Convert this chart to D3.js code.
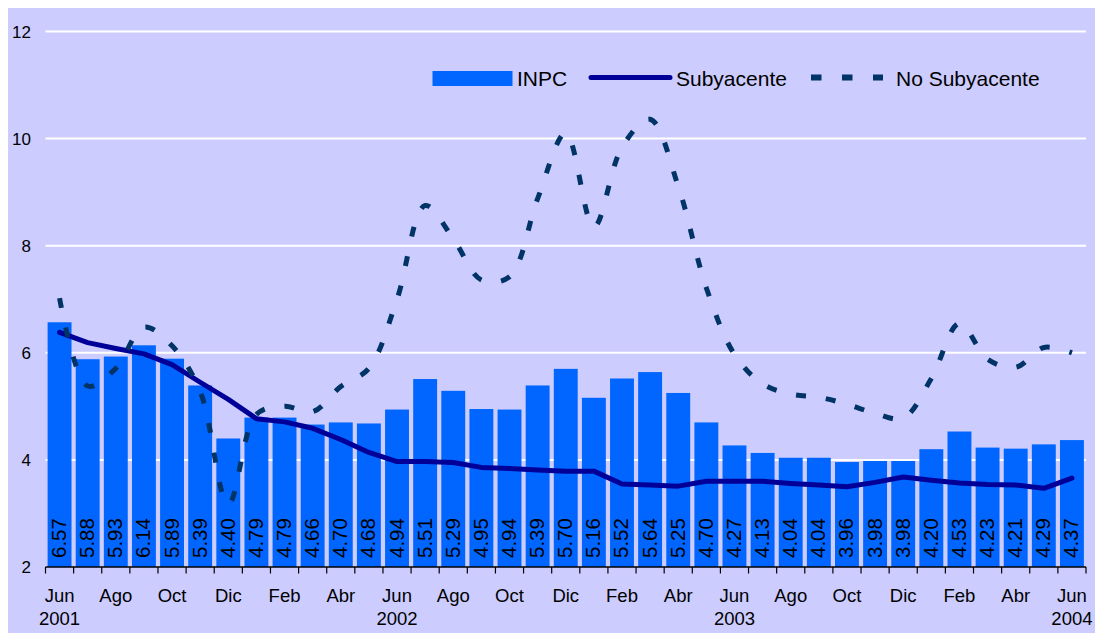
<!DOCTYPE html>
<html>
<head>
<meta charset="utf-8">
<script src="https://cdn.jsdelivr.net/npm/d3@7"></script>
<style>
  html, body { margin: 0; padding: 0; background: #ffffff; }
  svg { display: block; }
  text { font-family: "Liberation Sans", Arial, sans-serif; fill: #000; }
</style>
</head>
<body>
<svg id="chart" width="1095" height="633"></svg>
<script>
// Monthly months, Jun 2001 – Jun 2004
const months = ["Jun","Jul","Ago","Sep","Oct","Nov","Dic","Ene","Feb","Mar","Abr","May",
                "Jun","Jul","Ago","Sep","Oct","Nov","Dic","Ene","Feb","Mar","Abr","May",
                "Jun","Jul","Ago","Sep","Oct","Nov","Dic","Ene","Feb","Mar","Abr","May","Jun"];
const years = {0: "2001", 12: "2002", 24: "2003", 36: "2004"};

// Inflación anual (%)
const inpc = [6.57,5.88,5.93,6.14,5.89,5.39,4.40,4.79,4.79,4.66,4.70,4.68,
              4.94,5.51,5.29,4.95,4.94,5.39,5.70,5.16,5.52,5.64,5.25,4.70,
              4.27,4.13,4.04,4.04,3.96,3.98,3.98,4.20,4.53,4.23,4.21,4.29,4.37];
const subyacente = [6.38,6.19,6.08,5.98,5.78,5.45,5.13,4.77,4.71,4.59,4.38,4.14,
                    3.97,3.97,3.95,3.86,3.84,3.81,3.79,3.79,3.55,3.53,3.51,3.60,
                    3.60,3.60,3.56,3.53,3.50,3.58,3.68,3.62,3.57,3.54,3.53,3.47,3.66];
const noSubyacente = [7.02,5.38,5.71,6.48,6.13,5.28,3.17,4.85,5.00,4.90,5.37,5.71,
                      7.00,8.75,8.13,7.36,7.42,8.88,10.10,8.35,9.84,10.36,9.11,7.21,
                      5.97,5.42,5.23,5.17,5.04,4.87,4.78,5.52,6.55,5.88,5.73,6.10,6.00];
const yTicks = [2,4,6,8,10,12];

const svg = d3.select("#chart");
const idx = d3.range(inpc.length);

// background panel
svg.append("rect").attr("x", 8).attr("y", 8).attr("width", 1087).attr("height", 625)
  .attr("fill", "#ccccff");

const x = d3.scaleBand().domain(idx).range([45.5, 1086]).paddingInner(0.15).paddingOuter(0.075);
const y = d3.scaleLinear().domain([2, 12]).range([567, 31.5]);
const cx = i => x(i) + x.bandwidth() / 2;

// gridlines
svg.append("g").selectAll("line").data(yTicks.filter(d => d > 2)).join("line")
  .attr("x1", 45.5).attr("x2", 1086)
  .attr("y1", d => y(d)).attr("y2", d => y(d))
  .attr("stroke", "#ffffff").attr("stroke-width", 2);

// y tick labels
svg.append("g").selectAll("text").data(yTicks).join("text")
  .attr("x", 31).attr("y", d => y(d) + 6)
  .attr("text-anchor", "end").attr("font-size", 17)
  .text(d => d);

// bars
svg.append("g").selectAll("rect").data(inpc).join("rect")
  .attr("x", (d, i) => x(i)).attr("width", x.bandwidth())
  .attr("y", d => y(d)).attr("height", d => y(2) - y(d))
  .attr("fill", "#0066ff");

// bar value labels
svg.append("g").selectAll("text").data(inpc).join("text")
  .attr("transform", (d, i) => `translate(${cx(i) + 6.5},${y(2) - 9}) rotate(-90)`)
  .attr("font-size", 20.5)
  .text(d => d.toFixed(2));

// x axis line and ticks
const xa = svg.append("g");
xa.append("line").attr("x1", 45.5).attr("x2", 1086).attr("y1", y(2)).attr("y2", y(2))
  .attr("stroke", "#000").attr("stroke-width", 1.3);
const edges = idx.map(i => x(i) - x.step() * x.paddingInner() / 2).concat([1086]);
xa.selectAll("line.tick").data(edges).join("line").attr("class", "tick")
  .attr("x1", d => d).attr("x2", d => d).attr("y1", y(2)).attr("y2", y(2) + 6.5)
  .attr("stroke", "#000").attr("stroke-width", 1.2);

// month labels (every other month) and years
xa.selectAll("text.m").data(idx.filter(i => i % 2 === 0)).join("text").attr("class", "m")
  .attr("x", i => cx(i)).attr("y", 602)
  .attr("text-anchor", "middle").attr("font-size", 18.5)
  .text(i => months[i]);
xa.selectAll("text.yr").data(Object.keys(years).map(Number)).join("text").attr("class", "yr")
  .attr("x", i => cx(i)).attr("y", 625)
  .attr("text-anchor", "middle").attr("font-size", 18.5)
  .text(i => years[i]);

// Subyacente line
svg.append("path")
  .attr("d", d3.line().x((d, i) => cx(i)).y(d => y(d))(subyacente))
  .attr("fill", "none").attr("stroke", "#000099").attr("stroke-width", 5)
  .attr("stroke-linejoin", "round").attr("stroke-linecap", "round");

// No subyacente smoothed dashed line
svg.append("path")
  .attr("d", d3.line().x((d, i) => cx(i)).y(d => y(d)).curve(d3.curveCatmullRom.alpha(0.5))(noSubyacente))
  .attr("fill", "none").attr("stroke", "#003366").attr("stroke-width", 5)
  .attr("stroke-dasharray", "10,20");

// legend
const lg = svg.append("g");
lg.append("rect").attr("x", 432.5).attr("y", 71).attr("width", 80).attr("height", 15).attr("fill", "#0066ff");
lg.append("text").attr("x", 517).attr("y", 86).attr("font-size", 21).text("INPC");
lg.append("line").attr("x1", 591).attr("x2", 670).attr("y1", 77.5).attr("y2", 77.5)
  .attr("stroke", "#000099").attr("stroke-width", 5).attr("stroke-linecap", "round");
lg.append("text").attr("x", 676).attr("y", 86).attr("font-size", 21).text("Subyacente");
lg.append("line").attr("x1", 811).attr("x2", 883).attr("y1", 77.5).attr("y2", 77.5)
  .attr("stroke", "#003366").attr("stroke-width", 6).attr("stroke-dasharray", "10.5,20.5");
lg.append("text").attr("x", 896).attr("y", 86).attr("font-size", 21).text("No Subyacente");
</script>
</body>
</html>
